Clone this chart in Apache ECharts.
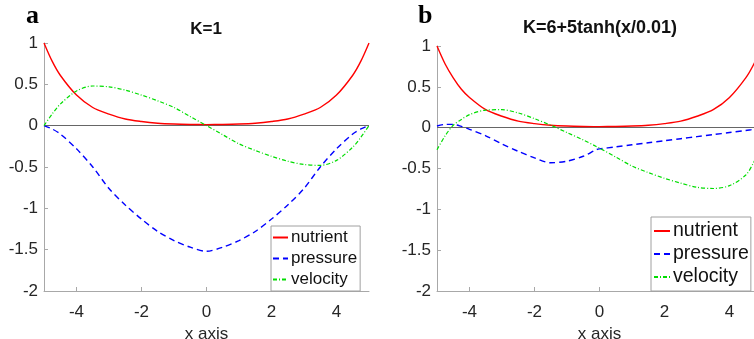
<!DOCTYPE html>
<html>
<head>
<meta charset="utf-8">
<script src="https://cdn.jsdelivr.net/npm/echarts@6/dist/echarts.min.js"></script>
<style>
html, body { margin: 0; padding: 0; background: #fff; }
#main { width: 754px; height: 339px; }
</style>
</head>
<body>
<div id="main"></div>
<script>
// panel a (K=1)
var xA = [-5, -4.75, -4.5, -4, -3.5, -3, -2.5, -2, -1.5, -1, -0.5, 0, 0.5, 1, 1.5, 2, 2.5, 3, 3.5, 4, 4.5, 4.75, 5];
var nutrientA = [1.0, 0.78, 0.61, 0.37, 0.22, 0.14, 0.08, 0.05, 0.03, 0.02, 0.015, 0.013, 0.015, 0.02, 0.03, 0.05, 0.08, 0.14, 0.22, 0.37, 0.61, 0.78, 1.0];
var pressureA = [0, -0.04, -0.1, -0.28, -0.5, -0.76, -0.96, -1.13, -1.28, -1.39, -1.47, -1.52, -1.47, -1.39, -1.28, -1.13, -0.96, -0.76, -0.5, -0.28, -0.1, -0.04, 0];
var velocityA = [0, 0.14, 0.26, 0.42, 0.48, 0.47, 0.43, 0.37, 0.30, 0.22, 0.11, 0, -0.11, -0.22, -0.30, -0.37, -0.43, -0.47, -0.48, -0.42, -0.26, -0.14, 0];

// panel b (K=6+5tanh(x/0.01))
var xB = [-5, -4.75, -4.5, -4.25, -4, -3.5, -3, -2.5, -2, -1.5, -1, -0.5, -0.1, 0, 0.5, 1, 1.5, 2, 2.5, 3, 3.5, 4, 4.5, 4.75, 5];
var nutrientB = [1.0, 0.78, 0.61, 0.47, 0.37, 0.22, 0.14, 0.08, 0.05, 0.03, 0.02, 0.015, 0.013, 0.013, 0.015, 0.02, 0.03, 0.05, 0.08, 0.14, 0.22, 0.37, 0.61, 0.78, 1.0];
var pressureB = [0.02, 0.04, 0.04, 0.015, -0.02, -0.1, -0.2, -0.29, -0.37, -0.43, -0.41, -0.35, -0.27, -0.26, -0.235, -0.21, -0.185, -0.16, -0.135, -0.11, -0.085, -0.06, -0.035, -0.02, -0.01];
var velocityB = [-0.27, -0.1, 0.03, 0.1, 0.16, 0.215, 0.22, 0.18, 0.11, 0.03, -0.06, -0.15, -0.23, -0.25, -0.36, -0.47, -0.55, -0.62, -0.68, -0.73, -0.745, -0.71, -0.58, -0.42, -0.2];

var seriesNames = ['nutrient', 'pressure', 'velocity'];
var xTicks = [-4, -2, 0, 2, 4];

var font = "'Liberation Sans', Arial, sans-serif";
var textColor = '#262626';
var axisColor = '#a8a8a8';

var lineStyles = {
    nutrient: { color: '#ff0000', width: 1.4, type: 'solid' },
    pressure: { color: '#0000ff', width: 1.4, type: [6, 4] },
    velocity: { color: '#00dd00', width: 1.2, type: [4, 2, 1, 2] }
};

function pairs(xs, ys) {
    return xs.map(function (x, i) { return [x, ys[i]]; });
}

function makeSeries(name, xs, ys, idx) {
    var s = {
        name: name,
        type: 'line',
        xAxisIndex: idx,
        yAxisIndex: idx,
        data: pairs(xs, ys),
        symbol: 'none',
        smooth: 0.3,
        color: lineStyles[name].color,
        lineStyle: lineStyles[name],
        z: 3
    };
    if (name === 'nutrient') {
        // the horizontal zero line
        s.markLine = {
            silent: true,
            symbol: 'none',
            label: { show: false },
            lineStyle: { color: '#666', width: 1.2, type: 'solid' },
            data: [{ yAxis: 0 }],
            z: 2
        };
    }
    return s;
}

function xAxisOpt(idx) {
    return {
        type: 'value', gridIndex: idx, min: -5, max: 5,
        axisLine: { show: true, onZero: false, lineStyle: { color: axisColor } },
        axisTick: { show: true, inside: true, length: 4, customValues: xTicks, lineStyle: { color: axisColor } },
        axisLabel: { customValues: xTicks, fontSize: 17, color: textColor, fontFamily: font, margin: 13 },
        splitLine: { show: false },
        name: 'x axis', nameLocation: 'middle', nameGap: 29,
        nameTextStyle: { fontSize: 17, color: textColor, fontFamily: font }
    };
}

function yAxisOpt(idx) {
    return {
        type: 'value', gridIndex: idx, min: -2, max: 1, interval: 0.5,
        axisLine: { show: true, onZero: false, lineStyle: { color: axisColor } },
        axisTick: { show: true, inside: true, length: 4, lineStyle: { color: axisColor } },
        axisLabel: { fontSize: 17, color: textColor, fontFamily: font, margin: 6 },
        splitLine: { show: false }
    };
}

function legendOpt(left, top, fontSize, itemWidth, gap, padding) {
    return {
        data: seriesNames,
        orient: 'vertical',
        left: left, top: top,
        itemWidth: itemWidth, itemHeight: 14, itemGap: gap,
        padding: padding,
        backgroundColor: '#fff',
        borderColor: '#a0a0a0', borderWidth: 1, borderRadius: 0,
        itemStyle: { opacity: 0 },
        textStyle: { fontSize: fontSize, color: '#111', fontFamily: font, padding: [0, 0, 0, -2] }
    };
}

var chart = echarts.init(document.getElementById('main'));

var series = [];
seriesNames.forEach(function (n) {
    var ys = { nutrient: nutrientA, pressure: pressureA, velocity: velocityA }[n];
    series.push(makeSeries(n, xA, ys, 0));
});
seriesNames.forEach(function (n) {
    var ys = { nutrient: nutrientB, pressure: pressureB, velocity: velocityB }[n];
    series.push(makeSeries(n, xB, ys, 1));
});

var option = {
    animation: false,
    backgroundColor: '#fff',
    textStyle: { fontFamily: font },
    grid: [
        { left: 44, right: 385, top: 43, bottom: 48, outerBoundsMode: 'none', containLabel: false },
        { left: 437, right: -8, top: 46, bottom: 48, outerBoundsMode: 'none', containLabel: false }
    ],
    xAxis: [xAxisOpt(0), xAxisOpt(1)],
    yAxis: [yAxisOpt(0), yAxisOpt(1)],
    legend: [
        legendOpt(271, 226, 17, 15, 4, [3, 3, 3, 1]),
        legendOpt(651, 217, 19.5, 16, 3, [4, 2, 4, 2])
    ],
    graphic: [
        { type: 'text', x: 206, y: 29, style: { text: 'K=1', fontSize: 17, fontWeight: 'bold', fill: '#111', fontFamily: font, align: 'center', verticalAlign: 'middle' } },
        { type: 'text', x: 600, y: 28, style: { text: 'K=6+5tanh(x/0.01)', fontSize: 18, fontWeight: 'bold', fill: '#111', fontFamily: font, align: 'center', verticalAlign: 'middle' } },
        { type: 'text', x: 26, y: 16, style: { text: 'a', fontSize: 26, fontWeight: 'bold', fill: '#000', fontFamily: "'Liberation Serif', 'Times New Roman', serif", verticalAlign: 'middle' } },
        { type: 'text', x: 418, y: 16, style: { text: 'b', fontSize: 26, fontWeight: 'bold', fill: '#000', fontFamily: "'Liberation Serif', 'Times New Roman', serif", verticalAlign: 'middle' } }
    ],
    series: series
};

chart.setOption(option);
</script>
</body>
</html>
